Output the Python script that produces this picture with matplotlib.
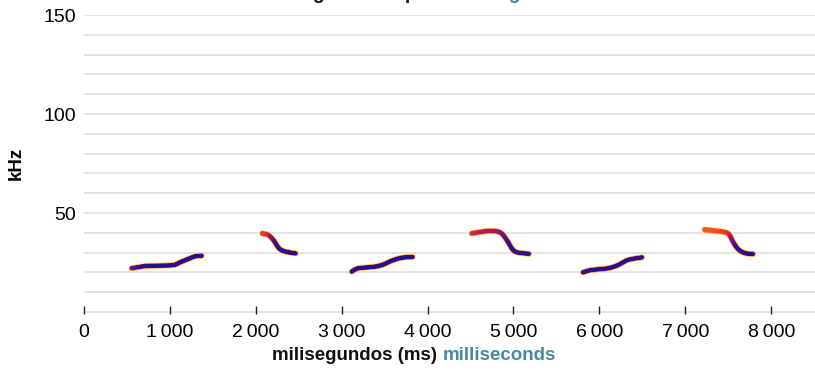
import numpy as np
import matplotlib
matplotlib.use("Agg")
import matplotlib.pyplot as plt
from matplotlib.collections import LineCollection
from matplotlib.colors import LinearSegmentedColormap

# ---- data (ms, kHz, relative intensity 0..1) ----
p1_t = [555, 710, 865, 1040, 1118, 1214, 1292, 1370]
p1_f = [22.1, 23.2, 23.4, 23.7, 25.1, 26.8, 28.1, 28.4]
p1_i = [0.6, 0.9, 0.95, 1.0, 1.0, 1.0, 1.0, 0.95]

p2_t = [2076, 2146, 2204, 2255, 2301, 2379, 2464]
p2_f = [39.7, 38.9, 36.4, 33.0, 31.2, 30.2, 29.6]
p2_i = [0.25, 0.35, 0.6, 0.85, 0.95, 0.95, 0.9]

p3_t = [3116, 3193, 3349, 3466, 3582, 3698, 3826]
p3_f = [20.4, 22.1, 22.7, 23.7, 25.9, 27.4, 27.8]
p3_i = [0.7, 0.95, 1.0, 1.0, 1.0, 1.0, 0.9]

p4_t = [4513, 4707, 4843, 4921, 4979, 5037, 5180]
p4_f = [39.7, 40.9, 40.2, 36.4, 32.2, 30.2, 29.4]
p4_i = [0.35, 0.45, 0.5, 0.7, 0.9, 0.95, 0.9]

p5_t = [5809, 5906, 6100, 6217, 6333, 6496]
p5_f = [20.0, 21.2, 22.1, 23.7, 26.3, 27.6]
p5_i = [0.8, 0.95, 1.0, 1.0, 1.0, 0.95]

p6_t = [7225, 7381, 7497, 7555, 7614, 7691, 7788]
p6_f = [41.6, 40.9, 39.7, 35.5, 31.8, 29.8, 29.3]
p6_i = [0.15, 0.2, 0.3, 0.6, 0.85, 0.95, 0.9]

pulses = [(p1_t, p1_f, p1_i), (p2_t, p2_f, p2_i), (p3_t, p3_f, p3_i),
          (p4_t, p4_f, p4_i), (p5_t, p5_f, p5_i), (p6_t, p6_f, p6_i)]

x_ticks = [0, 1000, 2000, 3000, 4000, 5000, 6000, 7000, 8000]
y_ticks = [50, 100, 150]

plt.rcParams['font.family'] = ['Liberation Sans', 'DejaVu Sans']

W, H = 815, 372
fig = plt.figure(figsize=(W / 100, H / 100), dpi=100)
ax = fig.add_axes([84 / W, (H - 314) / H, (W - 84) / W, 299 / H])
ax.set_xlim(0, 8510)
ax.set_ylim(-1, 150)

# grid every 10 kHz
for g in range(0, 151, 10):
    ax.axhline(g, color='#dedede', lw=1.2, zorder=0)

cmap = LinearSegmentedColormap.from_list(
    'spec', ['#ff8a1a', '#f03c1e', '#a0106a', '#36109a', '#22108e'])


def catmull(t, f, i, per=40):
    P = np.column_stack([t, f, i]).astype(float)
    P = np.vstack([P[0], P, P[-1]])
    out = []
    for k in range(1, len(P) - 2):
        p0, p1, p2, p3 = P[k - 1], P[k], P[k + 1], P[k + 2]
        for u in np.linspace(0, 1, per, endpoint=False):
            u2, u3 = u * u, u * u * u
            out.append(0.5 * ((2 * p1) + (-p0 + p2) * u +
                              (2 * p0 - 5 * p1 + 4 * p2 - p3) * u2 +
                              (-p0 + 3 * p1 - 3 * p2 + p3) * u3))
    out.append(P[-2])
    out = np.array(out)
    return out[:, 0], out[:, 1], np.clip(out[:, 2], 0, 1)


for t, f, i in pulses:
    tt, ff, ii = catmull(t, f, i)
    ax.plot(tt, ff, color='#ffe24a', lw=4.8, alpha=0.5, solid_capstyle='round', zorder=2)
    ax.plot(tt, ff, color='#f0481e', lw=3.7, alpha=0.9, solid_capstyle='round', zorder=3)
    pts = np.column_stack([tt, ff]).reshape(-1, 1, 2)
    segs = np.concatenate([pts[:-1], pts[1:]], axis=1)
    lc = LineCollection(segs, cmap=cmap, norm=plt.Normalize(0, 1),
                        linewidths=2.5, capstyle='round', zorder=4)
    lc.set_array((ii[:-1] + ii[1:]) / 2)
    ax.add_collection(lc)

for s in ax.spines.values():
    s.set_visible(False)

ax.set_xticks(x_ticks)
ax.set_xticklabels([f"{v:,}".replace(",", "\u2009") for v in x_ticks], fontsize=14)
ax.set_yticks(y_ticks)
ax.set_yticklabels([str(v) for v in y_ticks], fontsize=14)
ax.tick_params(axis='x', direction='in', length=5.5, width=1, color='#222222', pad=7)
ax.tick_params(axis='y', length=0, pad=6)

fig.text(16 / W, 1 - 163 / H, 'kHz', rotation=90, ha='center', va='center',
         fontsize=13.5, fontweight='bold')

fig.canvas.draw()
r = fig.canvas.get_renderer()


def two_color(cx, cy_px, a, b, va='center', size=13.5):
    t1 = fig.text(0, 0, a, fontsize=size, fontweight='bold', color='#111111')
    t2 = fig.text(0, 0, b, fontsize=size, fontweight='bold', color='#4a88a2')
    w1 = t1.get_window_extent(r).width
    w2 = t2.get_window_extent(r).width
    x0 = cx - (w1 + w2) / 2
    t1.set_position((x0 / W, 1 - cy_px / H)); t1.set_va(va)
    t2.set_position(((x0 + w1) / W, 1 - cy_px / H)); t2.set_va(va)


two_color(414, 355, 'milisegundos (ms) ', 'milliseconds')
# title sits mostly above the canvas, as in the reference
two_color(410, -1, 'Sonograma de pulso ', 'sonogram', va='baseline', size=14)

fig.savefig('out.png', dpi=100)
